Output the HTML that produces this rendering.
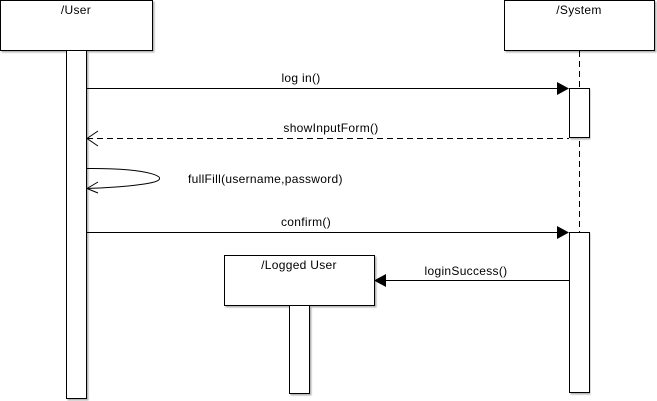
<!DOCTYPE html>
<html><head><style>body{margin:0;background:#fff}svg{display:block}text{font-family:"Liberation Sans",sans-serif;font-size:12px;letter-spacing:0.3px;fill:#000}</style></head><body>
<svg width="657" height="401" viewBox="0 0 657 401">
<defs><filter id="s" x="-5%" y="-5%" width="110%" height="115%"><feDropShadow dx="1.5" dy="1.5" stdDeviation="0.8" flood-color="#000" flood-opacity="0.3"/></filter></defs>
<g fill="#fff" stroke="#000" stroke-width="1" filter="url(#s)">
<rect x="0.5" y="0.5" width="152" height="50"/>
<rect x="504.5" y="0.5" width="150" height="50"/>
<rect x="66.5" y="50.5" width="20" height="348"/>
<rect x="224.5" y="255.5" width="150" height="50"/>
<rect x="289.5" y="305.5" width="20" height="88"/>
</g>
<line x1="579.5" y1="51" x2="579.5" y2="232" stroke="#000" stroke-dasharray="6,4"/>
<g fill="#fff" stroke="#000" filter="url(#s)">
<rect x="569.5" y="88.5" width="20" height="49"/>
<rect x="569.5" y="232.5" width="20" height="160"/>
</g>
<text x="76" y="14" text-anchor="middle">/User</text>
<text x="579" y="14" text-anchor="middle">/System</text>
<text x="299" y="269" text-anchor="middle">/Logged User</text>
<g stroke="#000" fill="none">
<line x1="87" y1="88.5" x2="558" y2="88.5"/>
<line x1="87" y1="138.5" x2="569" y2="138.5" stroke-dasharray="6,4"/>
<polyline points="98,131 87,138.5 98,146"/>
<path d="M87,168.5 C150,168 175,178 150,183 C130,187 100,188 87,188.5"/>
<polyline points="98,182 87,188.5 98,193"/>
<line x1="87" y1="232.5" x2="558" y2="232.5"/>
<line x1="386" y1="280.5" x2="569" y2="280.5"/>
</g>
<g fill="#000">
<polygon points="557,82 569,88.5 557,95"/>
<polygon points="557,226 569,232.5 557,239"/>
<polygon points="386,274 374,280.5 386,287"/>
</g>
<text x="301" y="82" text-anchor="middle">log in()</text>
<text x="331" y="132" text-anchor="middle">showInputForm()</text>
<text x="188" y="183">fullFill(username,password)</text>
<text x="306" y="226" text-anchor="middle">confirm()</text>
<text x="466" y="275" text-anchor="middle">loginSuccess()</text>
</svg>
</body></html>
